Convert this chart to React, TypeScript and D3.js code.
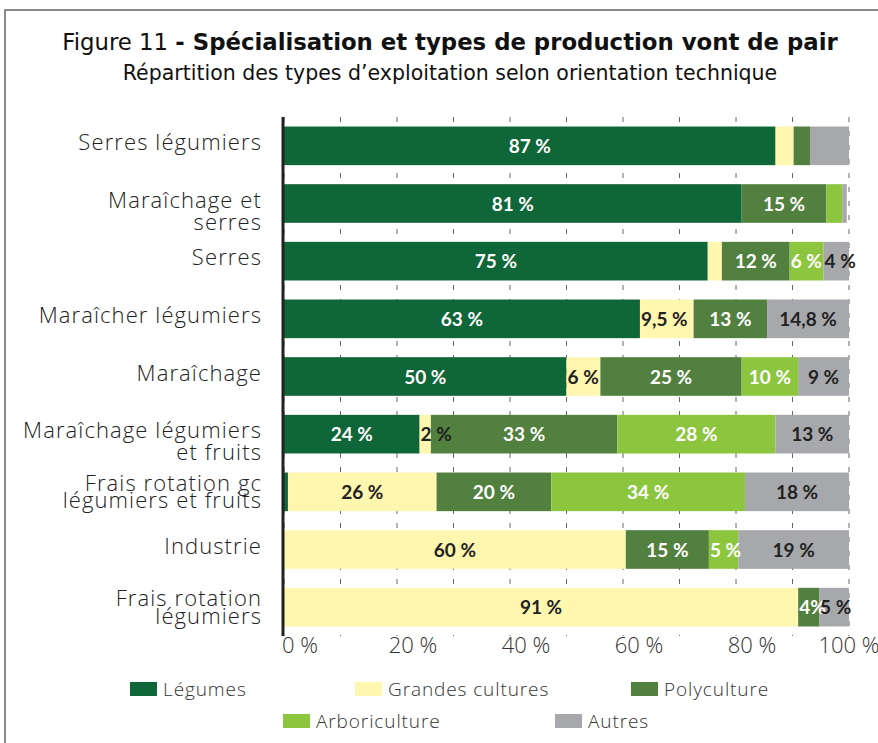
import * as d3 from 'd3';

// Catégories (OTEX) et séries
const categories = [
  ['Serres légumiers'],
  ['Maraîchage et', 'serres'],
  ['Serres'],
  ['Maraîcher légumiers'],
  ['Maraîchage'],
  ['Maraîchage légumiers', 'et fruits'],
  ['Frais rotation gc', 'légumiers et fruits'],
  ['Industrie'],
  ['Frais rotation', 'légumiers'],
];

const series = ['Légumes', 'Grandes cultures', 'Polyculture', 'Arboriculture', 'Autres'];
const colors = ['#0f6638', '#fff6b0', '#52803e', '#8cc63f', '#a7a8ab'];
const labelColors = ['#fff', '#222', '#fff', '#fff', '#222'];

// valeurs (%)
const legumes = [87, 81, 75, 63, 50, 24, 0.7, 0, 0];
const grandesCultures = [3.2, 0, 2.5, 9.5, 6, 2, 26.3, 60.5, 91];
const polyculture = [3, 15, 12, 13, 25, 33, 20.3, 14.7, 3.7];
const arboriculture = [0, 2.8, 6, 0, 10, 28, 34.3, 5.2, 0];
const autres = [6.8, 0.8, 4.5, 14.5, 9, 13, 18.4, 19.6, 5.3];

// étiquettes affichées
const legumesLabels = ['87 %', '81 %', '75 %', '63 %', '50 %', '24 %', '', '', ''];
const gcLabels = ['', '', '', '9,5 %', '6 %', '2 %', '26 %', '60 %', '91 %'];
const polyLabels = ['', '15 %', '12 %', '13 %', '25 %', '33 %', '20 %', '15 %', '4%'];
const arboLabels = ['', '', '6 %', '', '10 %', '28 %', '34 %', '5 %', ''];
const autresLabels = ['', '', '4 %', '14,8 %', '9 %', '13 %', '18 %', '19 %', '5 %'];

const xTicks = [0, 20, 40, 60, 80, 100];
const gridTicks = d3.range(0, 101, 10);

const W = 878;
const H = 743;
const lightFont = '"Open Sans", Lato, sans-serif';
const boldFont = 'Lato, "Open Sans", sans-serif';

export default function App() {
  const values = [legumes, grandesCultures, polyculture, arboriculture, autres];
  const labels = [legumesLabels, gcLabels, polyLabels, arboLabels, autresLabels];

  const x = d3.scaleLinear().domain([0, 100]).range([284, 849]);
  const y = d3
    .scaleBand<number>()
    .domain(d3.range(categories.length))
    .range([117, 636])
    .paddingInner(0.33)
    .paddingOuter(0.165);

  const rows = categories.map((_, i) => {
    const vals = values.map((s) => s[i]);
    const cum = d3.cumsum(vals);
    return vals.map((v, k) => ({ k, x0: cum[k] - v, x1: cum[k], v, label: labels[k][i] }));
  });

  const legendRow1 = [
    { k: 0, x: 130 },
    { k: 1, x: 355 },
    { k: 2, x: 631 },
  ];
  const legendRow2 = [
    { k: 3, x: 283 },
    { k: 4, x: 555 },
  ];

  return (
    <svg
      width={W}
      height={H}
      style={{ position: 'absolute', left: 0, top: 0, background: '#fff' }}
    >
      <rect x={5} y={10} width={W + 20} height={H + 20} fill="#fff" stroke="#666" strokeWidth={1.5} />

      <text x={450} y={50} textAnchor="middle" fontFamily='"DejaVu Sans", sans-serif' fontSize={22.8} fill="#111">
        Figure 11 <tspan fontWeight="bold">- Spécialisation et types de production vont de pair</tspan>
      </text>
      <text x={450} y={80} textAnchor="middle" fontFamily='"DejaVu Sans", sans-serif' fontSize={20.5} fill="#111">
        Répartition des types d’exploitation selon orientation technique
      </text>

      {/* grille pointillée */}
      {gridTicks.map((t) => (
        <line
          key={t}
          x1={x(t)}
          x2={x(t)}
          y1={117}
          y2={636}
          stroke="#666"
          strokeWidth={1}
          strokeDasharray="5,9"
        />
      ))}

      {/* barres */}
      {rows.map((segs, i) => (
        <g key={i}>
          {segs
            .filter((s) => s.v > 0)
            .map((s) => (
              <rect
                key={s.k}
                x={x(s.x0)}
                y={y(i)}
                width={x(s.x1) - x(s.x0)}
                height={y.bandwidth()}
                fill={colors[s.k]}
              />
            ))}
          {segs
            .filter((s) => s.label)
            .map((s) => {
              const segW = x(s.x1) - x(s.x0);
              const estW = s.label.length * 10;
              const fits = estW < segW - 4;
              return (
                <text
                  key={'l' + s.k}
                  x={fits ? (x(s.x0) + x(s.x1)) / 2 : x(s.x0) + 1}
                  y={y(i)! + y.bandwidth() / 2 + 7}
                  textAnchor={fits ? 'middle' : 'start'}
                  fontFamily={boldFont}
                  fontWeight={700}
                  fontSize={19}
                  fill={labelColors[s.k]}
                >
                  {s.label}
                </text>
              );
            })}
        </g>
      ))}

      {/* axe vertical */}
      <line x1={283} x2={283} y1={117} y2={636} stroke="#222" strokeWidth={3} />

      {/* étiquettes des catégories */}
      {categories.map((lines, i) => {
        const cy = y(i)! + y.bandwidth() / 2;
        const tight = lines.length > 1 && i >= 6;
        const lh = tight ? 17.5 : 22;
        const first = tight ? cy - 1 : cy + 4;
        return (
          <text
            key={i}
            x={262}
            textAnchor="end"
            fontFamily={lightFont}
            fontWeight={300}
            fontSize={22}
            letterSpacing={1.1}
            fill="#222"
          >
            {lines.map((l, j) => (
              <tspan key={j} x={262} y={first + j * lh}>
                {l}
              </tspan>
            ))}
          </text>
        );
      })}

      {/* graduations */}
      {xTicks.map((t) => (
        <text
          key={t}
          x={x(t) + (t === 100 ? 0 : 16)}
          y={653}
          textAnchor="middle"
          fontFamily={lightFont}
          fontWeight={300}
          fontSize={22}
          fill="#333"
        >
          {t} %
        </text>
      ))}

      {/* légende */}
      {[legendRow1, legendRow2].map((row, r) =>
        row.map((it) => (
          <g key={it.k} transform={`translate(${it.x},${r === 0 ? 689 : 721})`}>
            <rect x={0} y={-7} width={27} height={14} fill={colors[it.k]} />
            <text
              x={33}
              y={7}
              fontFamily={lightFont}
              fontWeight={300}
              fontSize={19}
              letterSpacing={0.9}
              fill="#333"
            >
              {series[it.k]}
            </text>
          </g>
        ))
      )}
    </svg>
  );
}
